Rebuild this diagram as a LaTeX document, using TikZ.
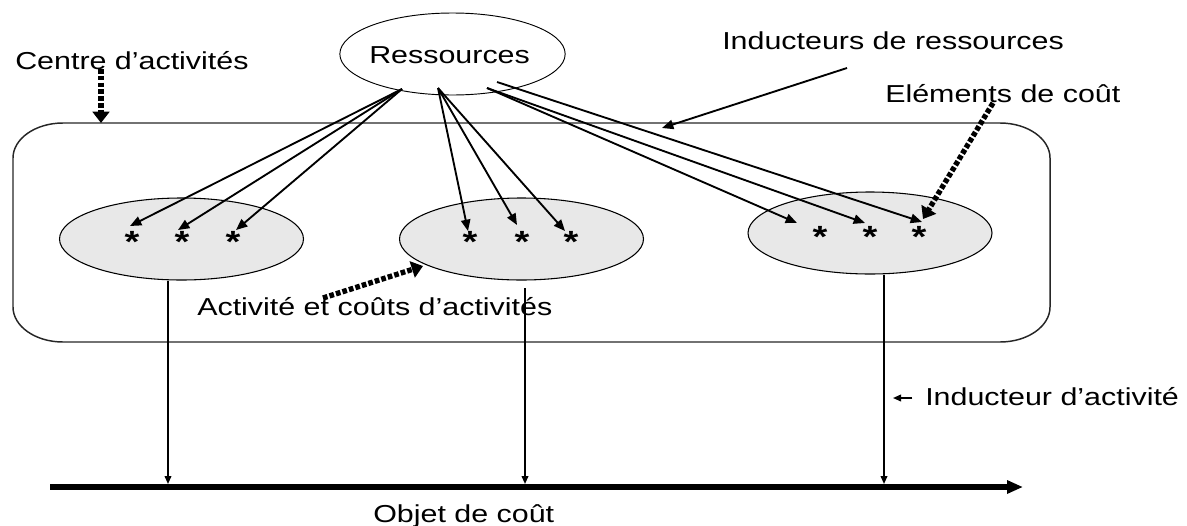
\documentclass[tikz,border=0pt]{standalone}
\usepackage{fontspec}
\setmainfont{Liberation Sans}
\usepackage{graphicx}
\usetikzlibrary{arrows.meta,shapes.geometric}
\newcommand\wtxt[1]{\scalebox{1.24}[1]{#1}}
\tikzset{
  lbl/.style={inner sep=0pt, anchor=base west, font=\fontsize{18.4pt}{22pt}\selectfont},
  starnode/.style={inner sep=0pt, anchor=base, font=\fontsize{23pt}{26pt}\selectfont\bfseries},
  act/.style={ellipse, draw=black, line width=0.8pt, fill=black!9, minimum width=183pt, minimum height=61.5pt, inner sep=0pt},
  res/.style={ellipse, draw=black, line width=0.7pt, fill=white, minimum width=169pt, minimum height=61.5pt, inner sep=0pt},
  thinarrow/.style={line width=1.4pt, -{Triangle[length=8.5pt,width=7pt]}},
  dotarrow/.style={line width=4pt, dash pattern=on 3.5pt off 1.6pt, -{Triangle[length=8.5pt,width=12.5pt]}},
  droparrow/.style={line width=1.2pt, -{Triangle[length=6pt,width=5pt]}},
  busarrow/.style={line width=3.8pt, -{Triangle[length=12pt,width=9.5pt]}},
}
\begin{document}
\begin{tikzpicture}[x=0.75pt,y=-0.75pt]
\useasboundingbox (0,0) rectangle (1187,525);
% activity centre
\draw[line width=1.1pt, draw=black!85] (63,123) -- (1000,123)
  .. controls (1027.6,123) and (1050,138.7) .. (1050,158) -- (1050,307)
  .. controls (1050,326.3) and (1027.6,342) .. (1000,342) -- (63,342)
  .. controls (35.4,342) and (13,326.3) .. (13,307) -- (13,158)
  .. controls (13,138.7) and (35.4,123) .. (63,123) -- cycle;
% ellipses
\node[res] (res) at (452.5,54) {};
\node[lbl] (restxt) at (369,63) {\wtxt{Ressources}};
\node[act] (a1) at (181.5,239) {};
\node[act] (a2) at (521.5,239) {};
\node[act] (a3) at (870,233) {};
% stars
\node[starnode] (s11) at (132,252) {\wtxt{*}};
\node[starnode] (s12) at (182,252) {\wtxt{*}};
\node[starnode] (s13) at (233,252) {\wtxt{*}};
\node[starnode] (s21) at (470,252) {\wtxt{*}};
\node[starnode] (s22) at (522,252) {\wtxt{*}};
\node[starnode] (s23) at (571,252) {\wtxt{*}};
\node[starnode] (s31) at (820,247) {\wtxt{*}};
\node[starnode] (s32) at (870,247) {\wtxt{*}};
\node[starnode] (s33) at (919,247) {\wtxt{*}};
% coordinates
\coordinate (o1) at (402,89);
\coordinate (o2) at (438,88);
\coordinate (o3) at (487,88);
\coordinate (o4) at (497,82);
\coordinate (t11) at (130,226);
\coordinate (t12) at (178,230);
\coordinate (t13) at (236,230);
\coordinate (t21) at (468,231);
\coordinate (t22) at (517,225);
\coordinate (t23) at (565,231);
\coordinate (t31) at (797,223);
\coordinate (t32) at (865,223);
\coordinate (t33) at (922,222);
% resource driver arrows
\draw[thinarrow] (o1) -- (t11);
\draw[thinarrow] (o1) -- (t12);
\draw[thinarrow] (o1) -- (t13);
\draw[thinarrow] (o2) -- (t21);
\draw[thinarrow] (o2) -- (t22);
\draw[thinarrow] (o2) -- (t23);
\draw[thinarrow] (o3) -- (t31);
\draw[thinarrow] (o3) -- (t32);
\draw[thinarrow] (o4) -- (t33);
% labels
\node[lbl] (centre) at (15,69) {\wtxt{Centre d’activités}};
\node[lbl] (indres) at (722,49) {\wtxt{Inducteurs de ressources}};
\node[lbl] (elem) at (885,102) {\wtxt{Eléments de coût}};
\node[lbl] (actc) at (197,315) {\wtxt{Activité et coûts d’activités}};
\node[lbl] (indact) at (925,405) {\wtxt{Inducteur d’activité}};
\node[lbl] (objet) at (373,522) {\wtxt{Objet de coût}};
% label pointers
\coordinate (ir0) at (847,68);
\coordinate (ir1) at (662,128);
\draw[thinarrow] (ir0) -- (ir1);
\coordinate (c0) at (101,69);
\coordinate (c1) at (101,123);
\draw[dotarrow] (c0) -- (c1);
\coordinate (e0) at (993,103);
\coordinate (e1) at (923,219);
\draw[dotarrow] (e0) -- (e1);
\coordinate (ac0) at (323,298);
\coordinate (ac1) at (423,266);
\draw[dotarrow] (ac0) -- (ac1);
\coordinate (ia1) at (893,398);
\draw[line width=1.2pt, -{Triangle[length=6pt,width=5pt]}] ([xshift=-9.5pt]indact.west |- ia1) -- (ia1);
% cost object bus
\coordinate (b0) at (50,487);
\coordinate (b1) at (1023,487);
\draw[busarrow] (b0) -- (b1);
\coordinate (d1) at (168,484);
\coordinate (d2) at (525,484);
\coordinate (d3) at (884,484);
\draw[droparrow] (a1.south -| d1) -- (d1);
\draw[droparrow] (525,288) -- (d2);
\draw[droparrow] (a3.south -| d3) -- (d3);
\end{tikzpicture}
\end{document}
